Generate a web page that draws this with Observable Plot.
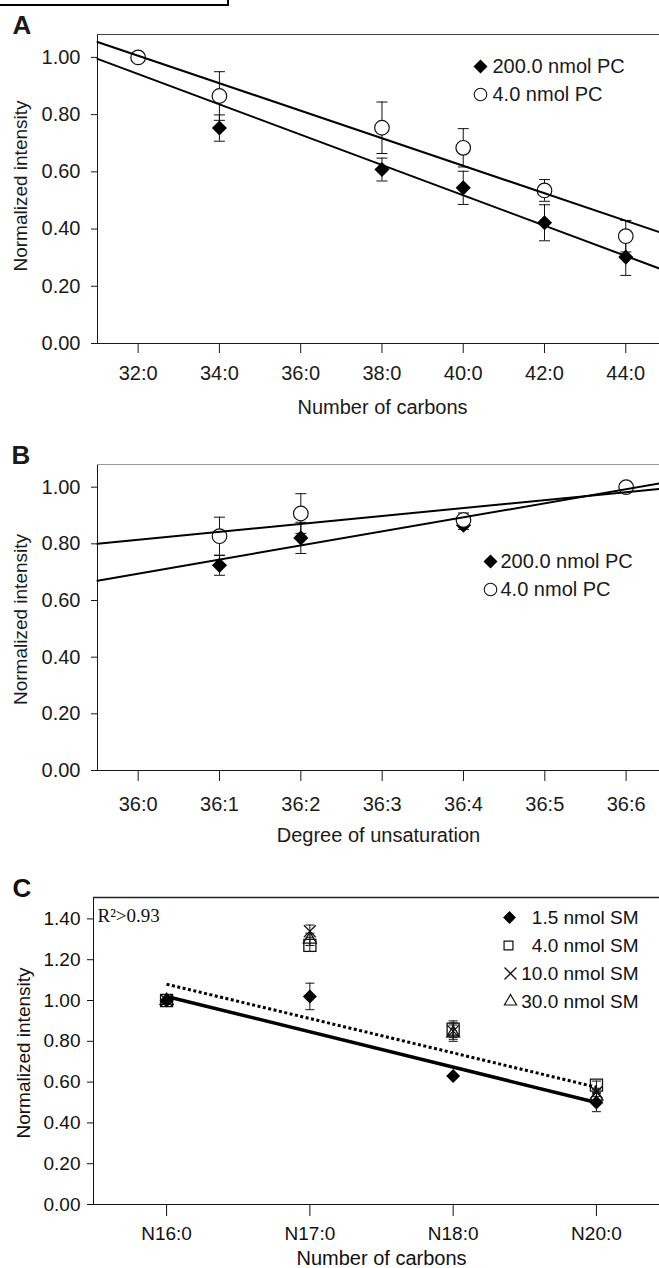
<!DOCTYPE html>
<html><head><meta charset="utf-8">
<script src="https://cdn.jsdelivr.net/npm/d3@7"></script>
<script src="https://cdn.jsdelivr.net/npm/@observablehq/plot@0.6"></script>
<style>
html,body{margin:0;padding:0;background:#fff;}
#root{position:relative;width:659px;height:1268px;overflow:hidden;background:#fff;}
#box{position:absolute;left:0;top:-3px;width:227px;height:7px;border-right:2px solid #000;border-bottom:2px solid #000;}
.panel{position:absolute;left:0;}
</style></head><body>
<div id="root"><div id="box"></div></div>
<script>
// ---------- Panel A : Number of carbons ----------
const carbonTicksA = [32, 34, 36, 38, 40, 42, 44];
const carbonLabelsA = ["32:0", "34:0", "36:0", "38:0", "40:0", "42:0", "44:0"];
const carbonsA = [32, 34, 38, 40, 42, 44];
const pc200A = [1.00, 0.753, 0.608, 0.544, 0.422, 0.302];
const pc200AErr = [0, 0.046, 0.04, 0.058, 0.063, 0.064];
const pc4A = [1.00, 0.865, 0.754, 0.684, 0.535, 0.375];
const pc4AErr = [0, 0.085, 0.09, 0.067, 0.038, 0.055];
const xDomainA = [31, 44.83];
const fit200A = [0.995, 0.262];   // regression line values at the two domain ends
const fit4A = [1.054, 0.389];

// ---------- Panel B : Degree of unsaturation ----------
const unsatTicksB = [0, 1, 2, 3, 4, 5, 6];
const unsatLabelsB = ["36:0", "36:1", "36:2", "36:3", "36:4", "36:5", "36:6"];
const unsatB = [1, 2, 4, 6];
const pc200B = [0.724, 0.821, 0.866, 1.00];
const pc200BErr = [0.035, 0.055, 0.015, 0];
const pc4B = [0.827, 0.907, 0.884, 1.00];
const pc4BErr = [0.067, 0.07, 0.025, 0];
const xDomainB = [-0.5, 6.41];
const fit200B = [0.67, 1.013];
const fit4B = [0.80, 0.994];

// ---------- Panel C : SM, Number of carbons ----------
const smTicksC = [0, 1, 2, 3];
const smLabelsC = ["N16:0", "N17:0", "N18:0", "N20:0"];
const sm15 = [1.00, 1.02, 0.63, 0.50];
const sm15Err = [0, 0.065, 0, 0.045];
const sm4 = [1.00, 1.27, 0.86, 0.585];
const sm4Err = [0, 0.03, 0.04, 0.02];
const sm10 = [1.00, 1.34, 0.85, 0.55];
const sm10Err = [0, 0.03, 0.04, 0.02];
const sm30 = [1.00, 1.30, 0.84, 0.53];
const sm30Err = [0, 0.03, 0.04, 0.02];
const xDomainC = [-0.51, 3.44];
const fitXC = [0, 3];
const fitSolidC = [1.02, 0.50];
const fitDottedC = [1.08, 0.575];

const yTicksAB = [0, 0.2, 0.4, 0.6, 0.8, 1.0];
const yTicksC = [0, 0.2, 0.4, 0.6, 0.8, 1.0, 1.2, 1.4];
const yDomainAB = [0, 1.08];
const yDomainC = [0, 1.505];
const yLabel = "Normalized intensity";

// ---------- helpers ----------
const FONT = "'Liberation Sans', Arial, Helvetica, sans-serif";
const SERIF = "'Liberation Serif', 'Times New Roman', serif";
const capSymbol = {draw(ctx, size) {const w = Math.sqrt(size / Math.PI); ctx.moveTo(-w, 0); ctx.lineTo(w, 0);}};
const rows = (xs, ys, es) => xs.map((x, i) => ({x, y: ys[i], e: es ? es[i] : 0}));
function errorBars(data, capR) {
  const d = data.filter(p => p.e > 0);
  const o = {stroke: "#111", strokeWidth: 1};
  return [
    Plot.ruleX(d, {x: "x", y1: p => p.y - p.e, y2: p => p.y + p.e, ...o}),
    Plot.dot(d, {x: "x", y: p => p.y + p.e, r: capR, symbol: capSymbol, fill: "none", ...o}),
    Plot.dot(d, {x: "x", y: p => p.y - p.e, r: capR, symbol: capSymbol, fill: "none", ...o})
  ];
}
const fitLine = (xs, ys, opts) => Plot.line(rows(xs, ys), {x: "x", y: "y", ...opts});
const label = (t, opts) => Plot.text([t], {text: d => d, ...opts});
const legendDot = (opts) => Plot.dot([0], {frameAnchor: "top-left", ...opts});
function mount(svg, top) {
  const div = document.createElement("div");
  div.className = "panel"; div.style.top = top + "px";
  div.appendChild(svg);
  document.getElementById("root").appendChild(div);
}
const fmt2 = d => d.toFixed(2);

// ---------- Panel A ----------
const plotA = Plot.plot({
  width: 659, height: 420, marginTop: 34, marginRight: 0, marginBottom: 77, marginLeft: 97,
  style: {fontFamily: FONT, fontSize: "20px", color: "#1a1a1a", background: "transparent", overflow: "visible"},
  x: {domain: xDomainA, ticks: carbonTicksA, tickFormat: d => carbonLabelsA[carbonTicksA.indexOf(d)], tickSize: 10, tickPadding: 12, label: null, line: true},
  y: {domain: yDomainAB, ticks: yTicksAB, tickFormat: fmt2, tickSize: 6, tickPadding: 11, label: null, line: true},
  marks: [
    Plot.ruleY([yDomainAB[1]], {stroke: "#444", strokeWidth: 1}),
    ...errorBars(rows(carbonsA, pc200A, pc200AErr), 5.5),
    ...errorBars(rows(carbonsA, pc4A, pc4AErr), 5.5),
    Plot.dot(rows(carbonsA, pc200A), {x: "x", y: "y", symbol: "diamond2", r: 6.8, fill: "#000", stroke: "none"}),
    Plot.dot(rows(carbonsA, pc4A), {x: "x", y: "y", symbol: "circle", r: 7.3, fill: "#fff", stroke: "#111", strokeWidth: 1.2}),
    fitLine(xDomainA, fit200A, {stroke: "#000", strokeWidth: 2}),
    fitLine(xDomainA, fit4A, {stroke: "#000", strokeWidth: 2}),
    legendDot({symbol: "diamond2", r: 6.3, fill: "#000", stroke: "none", dx: 383, dy: 32}),
    legendDot({symbol: "circle", r: 6.3, fill: "#fff", stroke: "#111", strokeWidth: 1.1, dx: 383, dy: 60}),
    label("200.0 nmol PC", {frameAnchor: "top-left", dx: 395, dy: 32, textAnchor: "start", lineAnchor: "middle", fontSize: 20}),
    label("4.0 nmol PC", {frameAnchor: "top-left", dx: 395, dy: 60, textAnchor: "start", lineAnchor: "middle", fontSize: 20}),
    label("A", {frameAnchor: "top-left", dx: -85, dy: -1, textAnchor: "start", lineAnchor: "bottom", fontSize: 26, fontWeight: "bold"}),
    label("Number of carbons", {frameAnchor: "bottom", dx: 4, dy: 64, lineAnchor: "middle", fontSize: 20}),
    label(yLabel, {frameAnchor: "left", dx: -77, dy: -3, rotate: -90, textAnchor: "middle", lineAnchor: "middle", fontSize: 19})
  ]
});
mount(plotA, 0);

// ---------- Panel B ----------
const plotB = Plot.plot({
  width: 659, height: 440, marginTop: 44, marginRight: 0, marginBottom: 90, marginLeft: 97,
  style: {fontFamily: FONT, fontSize: "20px", color: "#1a1a1a", background: "transparent", overflow: "visible"},
  x: {domain: xDomainB, ticks: unsatTicksB, tickFormat: d => unsatLabelsB[unsatTicksB.indexOf(d)], tickSize: 11, tickPadding: 15, label: null, line: true},
  y: {domain: yDomainAB, ticks: yTicksAB, tickFormat: fmt2, tickSize: 6, tickPadding: 11, label: null, line: true},
  marks: [
    Plot.ruleY([yDomainAB[1]], {stroke: "#999", strokeWidth: 1}),
    ...errorBars(rows(unsatB, pc200B, pc200BErr), 5.5),
    ...errorBars(rows(unsatB, pc4B, pc4BErr), 5.5),
    Plot.dot(rows(unsatB, pc200B), {x: "x", y: "y", symbol: "diamond2", r: 6.8, fill: "#000", stroke: "none"}),
    Plot.dot(rows(unsatB, pc4B), {x: "x", y: "y", symbol: "circle", r: 7.3, fill: "#fff", stroke: "#111", strokeWidth: 1.2}),
    fitLine(xDomainB, fit200B, {stroke: "#000", strokeWidth: 2}),
    fitLine(xDomainB, fit4B, {stroke: "#000", strokeWidth: 2}),
    legendDot({symbol: "diamond2", r: 6.3, fill: "#000", stroke: "none", dx: 393, dy: 97}),
    legendDot({symbol: "circle", r: 6.3, fill: "#fff", stroke: "#111", strokeWidth: 1.1, dx: 393, dy: 125}),
    label("200.0 nmol PC", {frameAnchor: "top-left", dx: 403, dy: 97, textAnchor: "start", lineAnchor: "middle", fontSize: 20}),
    label("4.0 nmol PC", {frameAnchor: "top-left", dx: 403, dy: 125, textAnchor: "start", lineAnchor: "middle", fontSize: 20}),
    label("B", {frameAnchor: "top-left", dx: -86, dy: -1, textAnchor: "start", lineAnchor: "bottom", fontSize: 26, fontWeight: "bold"}),
    label("Degree of unsaturation", {frameAnchor: "bottom", dx: 0, dy: 65, lineAnchor: "middle", fontSize: 20}),
    label(yLabel, {frameAnchor: "left", dx: -77, dy: 2, rotate: -90, textAnchor: "middle", lineAnchor: "middle", fontSize: 19})
  ]
});
mount(plotB, 420);

// ---------- Panel C ----------
const plotC = Plot.plot({
  width: 659, height: 408, marginTop: 37, marginRight: 0, marginBottom: 64, marginLeft: 93,
  style: {fontFamily: FONT, fontSize: "19px", color: "#111", background: "transparent", overflow: "visible"},
  x: {domain: xDomainC, ticks: smTicksC, tickFormat: d => smLabelsC[smTicksC.indexOf(d)], tickSize: 12, tickPadding: 10, label: null, line: true},
  y: {domain: yDomainC, ticks: yTicksC, tickFormat: fmt2, tickSize: 6, tickPadding: 7, label: null, line: true},
  marks: [
    Plot.ruleY([yDomainC[1]], {stroke: "#222", strokeWidth: 1.3}),
    ...errorBars(rows(smTicksC, sm15, sm15Err), 4.5),
    ...errorBars(rows(smTicksC, sm4, sm4Err), 4.5),
    ...errorBars(rows(smTicksC, sm10, sm10Err), 4.5),
    ...errorBars(rows(smTicksC, sm30, sm30Err), 4.5),
    Plot.dot(rows(smTicksC, sm4), {x: "x", y: "y", symbol: "square", r: 6.8, fill: "none", stroke: "#111", strokeWidth: 1.3}),
    Plot.dot(rows(smTicksC, sm30), {x: "x", y: "y", symbol: "triangle", r: 4.8, fill: "none", stroke: "#111", strokeWidth: 1.3}),
    Plot.dot(rows(smTicksC, sm10), {x: "x", y: "y", symbol: "times", r: 5.5, fill: "none", stroke: "#111", strokeWidth: 1.3}),
    Plot.dot(rows(smTicksC, sm15), {x: "x", y: "y", symbol: "diamond2", r: 6.3, fill: "#000", stroke: "none"}),
    fitLine(fitXC, fitSolidC, {stroke: "#000", strokeWidth: 3.5}),
    fitLine(fitXC, fitDottedC, {stroke: "#000", strokeWidth: 3, strokeDasharray: "3,2.5", strokeLinecap: "butt"}),
    label("R²>0.93", {frameAnchor: "top-left", dx: 4, dy: 18, textAnchor: "start", lineAnchor: "middle", fontFamily: SERIF, fontSize: 19}),
    legendDot({symbol: "diamond2", r: 5.8, fill: "#000", stroke: "none", dx: 416, dy: 20}),
    legendDot({symbol: "square", r: 5, fill: "none", stroke: "#111", strokeWidth: 1.2, dx: 415, dy: 48}),
    legendDot({symbol: "times", r: 5.5, fill: "none", stroke: "#111", strokeWidth: 1.3, dx: 417, dy: 76}),
    legendDot({symbol: "triangle", r: 4.5, fill: "none", stroke: "#111", strokeWidth: 1.2, dx: 417, dy: 104}),
    label("1.5 nmol SM", {frameAnchor: "top-right", dx: -21, dy: 20, textAnchor: "end", lineAnchor: "middle", fontSize: 19}),
    label("4.0 nmol SM", {frameAnchor: "top-right", dx: -21, dy: 48, textAnchor: "end", lineAnchor: "middle", fontSize: 19}),
    label("10.0 nmol SM", {frameAnchor: "top-right", dx: -21, dy: 76, textAnchor: "end", lineAnchor: "middle", fontSize: 19}),
    label("30.0 nmol SM", {frameAnchor: "top-right", dx: -21, dy: 104, textAnchor: "end", lineAnchor: "middle", fontSize: 19}),
    label("C", {frameAnchor: "top-left", dx: -81, dy: -1, textAnchor: "start", lineAnchor: "bottom", fontSize: 26, fontWeight: "bold"}),
    label("Number of carbons", {frameAnchor: "bottom", dx: 5, dy: 54, lineAnchor: "middle", fontSize: 20}),
    label(yLabel, {frameAnchor: "left", dx: -70, dy: 2, rotate: -90, textAnchor: "middle", lineAnchor: "middle", fontSize: 19})
  ]
});
mount(plotC, 860);
</script>
</body></html>
